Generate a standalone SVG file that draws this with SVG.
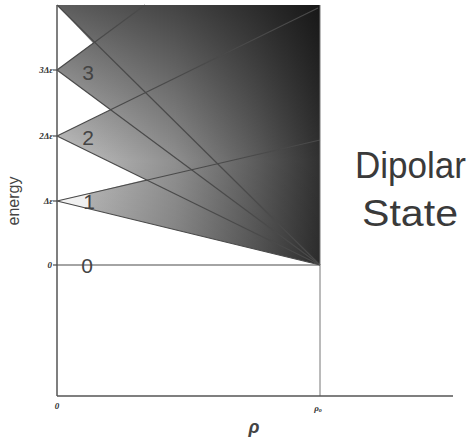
<svg xmlns="http://www.w3.org/2000/svg" width="472" height="441" viewBox="0 0 472 441">
<defs>
<linearGradient id="gx" x1="57" y1="0" x2="320" y2="0" gradientUnits="userSpaceOnUse">
<stop offset="0" stop-color="#d0d0d0"/>
<stop offset="0.45" stop-color="#969696"/>
<stop offset="0.75" stop-color="#626262"/>
<stop offset="1" stop-color="#333"/>
</linearGradient>
<linearGradient id="gy" x1="0" y1="5" x2="0" y2="265" gradientUnits="userSpaceOnUse">
<stop offset="0" stop-color="#000" stop-opacity="0.55"/>
<stop offset="0.3" stop-color="#000" stop-opacity="0.3"/>
<stop offset="0.6" stop-color="#000" stop-opacity="0.05"/>
<stop offset="1" stop-color="#000" stop-opacity="0.15"/>
</linearGradient>
<style>
.ln{stroke:#4a4a4a;stroke-width:1.2;fill:none}
.ax{stroke:#555;stroke-width:1.5;fill:none}
.thin{stroke:#777;stroke-width:1;fill:none}
.lab{font-family:"Liberation Sans",Arial,sans-serif;fill:#444}
.sm{font-family:"Liberation Serif","Times New Roman",serif;font-size:9px;fill:#333;font-style:italic;font-weight:bold}
.dig{font-family:"Liberation Sans",Arial,sans-serif;fill:#444;font-size:21px}
.big{font-family:"Liberation Sans",Arial,sans-serif;fill:#3a3a3a;font-size:36px}
</style>
</defs>
<g id="shading">
<rect x="57" y="5" width="263" height="260" fill="url(#gx)"/>
<rect x="57" y="5" width="263" height="260" fill="url(#gy)"/>
<polygon points="57,5 93,43 57,70" fill="#fff"/>
<polygon points="57,70 110.6,109.7 57,136" fill="#fff"/>
<polygon points="57,136 145.7,179.5 57,201" fill="#fff"/>
<polygon points="57,201 320,265 57,265" fill="#fff"/>
<polygon points="57,201 89,193.2 89,208.8" fill="#fff" opacity="0.8"/>
</g>
<g id="connectors">
<line class="ln" x1="57" y1="5" x2="320" y2="265"/>
<line class="ln" x1="57" y1="70" x2="320" y2="265"/>
<line class="ln" x1="57" y1="70" x2="145" y2="5"/>
<line class="ln" x1="57" y1="136" x2="320" y2="265"/>
<line class="ln" x1="57" y1="136" x2="318" y2="8"/>
<line class="ln" x1="57" y1="201" x2="320" y2="265"/>
<line class="ln" x1="57" y1="201" x2="320" y2="140"/>
<line class="ln" x1="57" y1="265" x2="320" y2="265"/>
<line class="thin" x1="320" y1="5" x2="320" y2="396"/>
<line class="ax" x1="57" y1="5" x2="57" y2="396"/>
<line class="ax" x1="57" y1="396" x2="453" y2="396"/>
<line class="ln" x1="53" y1="70" x2="57" y2="70"/>
<line class="ln" x1="53" y1="136" x2="57" y2="136"/>
<line class="ln" x1="53" y1="201" x2="57" y2="201"/>
<line class="ln" x1="53" y1="265" x2="57" y2="265"/>
</g>
<g id="state3"><text class="dig" x="88" y="80" text-anchor="middle" font-size="22">3</text></g>
<g id="state2"><text class="dig" x="88" y="145" text-anchor="middle">2</text></g>
<g id="state1"><text class="dig" x="89" y="209" text-anchor="middle" font-size="18">1</text></g>
<g id="state0"><text class="dig" x="87" y="273" text-anchor="middle">0</text></g>
<g id="yticks">
<text class="sm" x="53" y="73" text-anchor="end">3Δε</text>
<text class="sm" x="53" y="139" text-anchor="end">2Δε</text>
<text class="sm" x="53" y="204" text-anchor="end">Δε</text>
<text class="sm" x="52" y="268" text-anchor="end" font-style="normal">0</text>
</g>
<g id="xticks">
<text class="sm" x="57" y="409" text-anchor="middle" font-style="normal">0</text>
<text class="sm" x="318" y="411" text-anchor="middle">ρ<tspan font-size="6" dy="1">o</tspan></text>
</g>
<g id="axis-labels">
<text class="lab" x="254" y="433" text-anchor="middle" font-size="18" font-style="italic" font-weight="bold">ρ</text>
<text class="lab" transform="translate(19,201) rotate(-90)" text-anchor="middle" font-size="16">energy</text>
</g>
<g id="title">
<text class="big" x="355" y="178" textLength="111" lengthAdjust="spacingAndGlyphs">Dipolar</text>
<text class="big" x="362" y="226" textLength="96" lengthAdjust="spacingAndGlyphs">State</text>
</g>
</svg>
